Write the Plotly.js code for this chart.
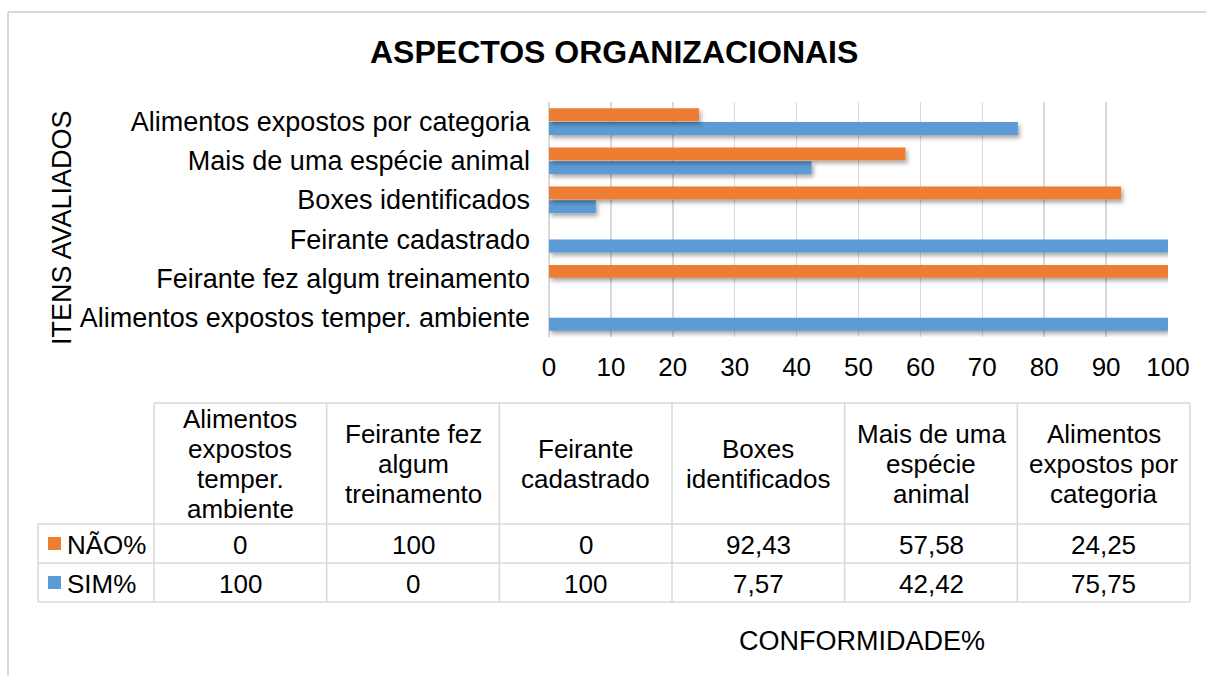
<!DOCTYPE html>
<html>
<head>
<meta charset="utf-8">
<script src="https://cdn.plot.ly/plotly-3.0.1.min.js"></script>
<style>
  html, body { margin: 0; padding: 0; background: #ffffff; }
  #chart { width: 1206px; height: 676px; }
</style>
</head>
<body>
<div id="chart"></div>
<script>
// ---------- DATA ----------
const categories = [
  "Alimentos expostos temper. ambiente",
  "Feirante fez algum treinamento",
  "Feirante cadastrado",
  "Boxes identificados",
  "Mais de uma espécie animal",
  "Alimentos expostos por categoria"
];
const tableHeaders = [
  ["Alimentos", "expostos", "temper.", "ambiente"],
  ["Feirante fez", "algum", "treinamento"],
  ["Feirante", "cadastrado"],
  ["Boxes", "identificados"],
  ["Mais de uma", "espécie", "animal"],
  ["Alimentos", "expostos por", "categoria"]
];
const naoValues = [0, 100, 0, 92.43, 57.58, 24.25];
const simValues = [100, 0, 100, 7.57, 42.42, 75.75];
const seriesNames = ["NÃO%", "SIM%"];
const xTickValues = [0, 10, 20, 30, 40, 50, 60, 70, 80, 90, 100];

// ---------- STYLE / LAYOUT CONSTANTS ----------
const W = 1206, H = 676;
const ORANGE = "#ED7D31", BLUE = "#5B9BD5";
const GRID = "#d9d9d9";
const FONT = "Liberation Sans, Arial, sans-serif";
const FS = 26;       // table & x tick text
const FS_CAT = 27;   // category labels & axis titles
const px = v => v / W;
const py = v => 1 - v / H;

const plotL = 549, plotR = 1168, plotT = 102, plotB = 337;

// table geometry (pixels)
const tL = 38, tRH = 154, tR = 1190;
const tTop = 403, tHead = 524, tRow1 = 563, tBot = 602;
const colW = (tR - tRH) / categories.length;

const fmt = v => String(v).replace(".", ",");

// ---------- TRACES ----------
const traces = [
  {
    type: "bar", orientation: "h", name: seriesNames[1],
    y: categories, x: simValues,
    marker: { color: BLUE }, hoverinfo: "x+y"
  },
  {
    type: "bar", orientation: "h", name: seriesNames[0],
    y: categories, x: naoValues,
    marker: { color: ORANGE }, hoverinfo: "x+y"
  }
];

// ---------- SHAPES & ANNOTATIONS ----------
const shapes = [];
const annotations = [];
const line = (x0, y0, x1, y1, w) => shapes.push({
  type: "line", xref: "paper", yref: "paper",
  x0: px(x0), y0: py(y0), x1: px(x1), y1: py(y1),
  line: { color: GRID, width: w || 1.5 }
});

// outer chart border (top and left visible)
line(8, 12, W + 5, 12, 2);
line(8, 12, 8, H + 5, 2);

// table lines
line(tRH, tTop, tR, tTop);
line(tL, tHead, tR, tHead);
line(tL, tRow1, tR, tRow1);
line(tL, tBot, tR, tBot);
line(tL, tHead, tL, tBot);
for (let i = 0; i <= categories.length; i++) {
  const x = tRH + i * colW;
  line(x, tTop, x, tBot);
}

const txt = (text, x, y, opts = {}) => annotations.push(Object.assign({
  text, xref: "paper", yref: "paper", x: px(x), y: py(y),
  xanchor: "center", yanchor: "middle", showarrow: false,
  font: { family: FONT, size: FS, color: "#000000" }
}, opts));

// header cells
const lineH = 30;
tableHeaders.forEach((lines, i) => {
  const cx = tRH + (i + 0.5) * colW;
  const cy = (tTop + tHead) / 2;
  lines.forEach((l, j) => {
    txt(l, cx, cy + (j - (lines.length - 1) / 2) * lineH);
  });
});

// value rows
const rowsY = [(tHead + tRow1) / 2, (tRow1 + tBot) / 2];
[naoValues, simValues].forEach((vals, r) => {
  vals.forEach((v, i) => {
    txt(fmt(v), tRH + (i + 0.5) * colW, rowsY[r] + 1);
  });
});

// legend keys in table
[[ORANGE, seriesNames[0]], [BLUE, seriesNames[1]]].forEach(([c, name], r) => {
  const cy = rowsY[r];
  shapes.push({
    type: "rect", xref: "paper", yref: "paper",
    x0: px(48), x1: px(61), y0: py(cy + 6.5), y1: py(cy - 6.5),
    fillcolor: c, line: { width: 0 }
  });
  txt(name, 65, cy + 1, { xanchor: "left" });
});

// title
txt("<b>ASPECTOS ORGANIZACIONAIS</b>", 614, 52, { font: { family: FONT, size: 32, color: "#000000" } });
// y axis title
txt("ITENS AVALIADOS", 62, 228, { textangle: -90, font: { family: FONT, size: FS_CAT, color: "#000000" } });
// x axis title
txt("CONFORMIDADE%", 862, 641, { font: { family: FONT, size: FS_CAT, color: "#000000" } });

// ---------- LAYOUT ----------
const layout = {
  width: W, height: H,
  margin: { l: 0, r: 0, t: 0, b: 0 },
  paper_bgcolor: "#ffffff", plot_bgcolor: "#ffffff",
  font: { family: FONT, size: FS, color: "#000000" },
  showlegend: false,
  barmode: "group", bargap: 0.3, bargroupgap: 0.06,
  xaxis: {
    domain: [px(plotL), px(plotR)],
    range: [0, 100], tickvals: xTickValues,
    showgrid: true, gridcolor: GRID, gridwidth: 1.5,
    zeroline: true, zerolinecolor: GRID, zerolinewidth: 1.5,
    showline: false, ticks: "",
    ticklabelstandoff: 12,
    tickfont: { family: FONT, size: FS, color: "#000000" },
    fixedrange: true
  },
  yaxis: {
    domain: [py(plotB), py(plotT)],
    type: "category", categoryorder: "array", categoryarray: categories,
    showgrid: false, zeroline: false, showline: false, ticks: "",
    ticklabelstandoff: 18,
    tickfont: { family: FONT, size: FS_CAT, color: "#000000" },
    fixedrange: true
  },
  shapes, annotations
};

Plotly.newPlot("chart", traces, layout, { displayModeBar: false, staticPlot: true }).then(gd => {
  const ns = "http://www.w3.org/2000/svg";
  const svg = gd.querySelector(".main-svg");
  let defs = svg.querySelector("defs");
  if (!defs) { defs = document.createElementNS(ns, "defs"); svg.insertBefore(defs, svg.firstChild); }
  const f = document.createElementNS(ns, "filter");
  f.setAttribute("id", "barshadow");
  f.setAttribute("x", "-10%"); f.setAttribute("y", "-50%");
  f.setAttribute("width", "130%"); f.setAttribute("height", "250%");
  const ds = document.createElementNS(ns, "feDropShadow");
  ds.setAttribute("dx", "2"); ds.setAttribute("dy", "3");
  ds.setAttribute("stdDeviation", "2");
  ds.setAttribute("flood-color", "#000000");
  ds.setAttribute("flood-opacity", "0.35");
  f.appendChild(ds);
  defs.appendChild(f);
  gd.querySelectorAll(".barlayer .point path").forEach(p => p.setAttribute("filter", "url(#barshadow)"));
});
</script>
</body>
</html>
